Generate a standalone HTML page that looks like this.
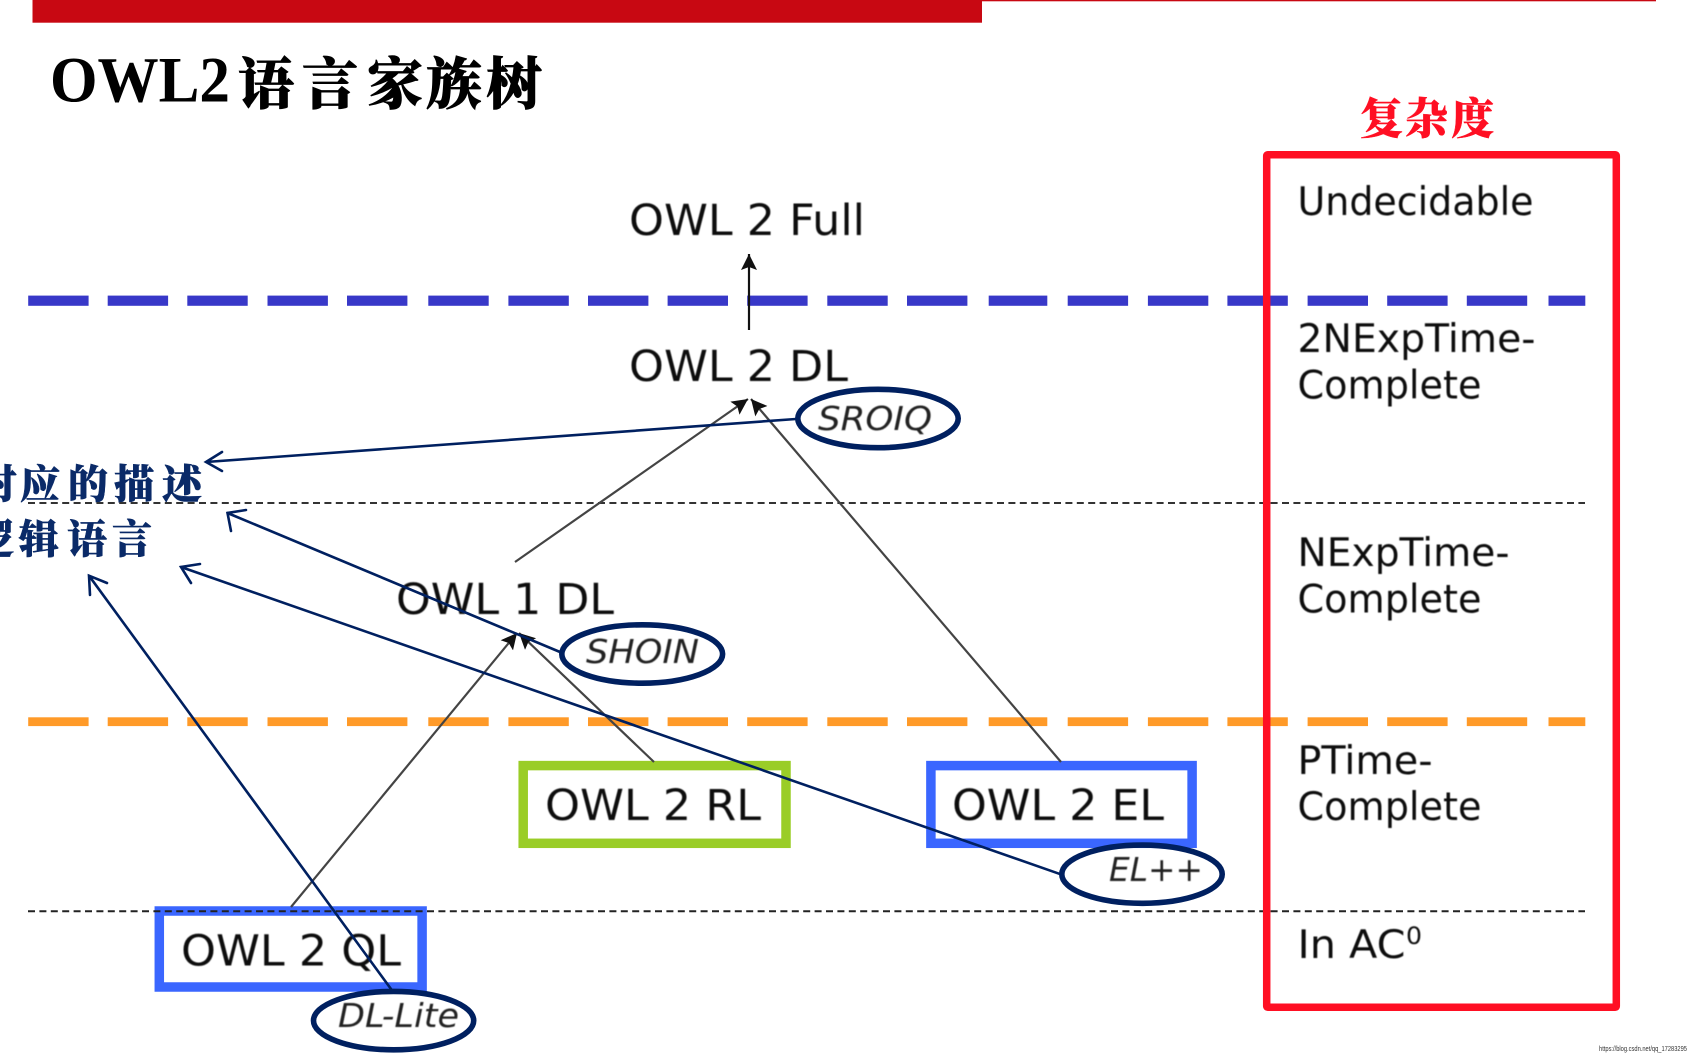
<!DOCTYPE html>
<html><head><meta charset="utf-8"><style>
html,body{margin:0;padding:0;background:#fff;width:1698px;height:1062px;overflow:hidden}
svg{display:block}
.d{font-family:"DejaVu Sans",sans-serif;fill:#111}
.i{font-family:"DejaVu Sans",sans-serif;font-style:italic;fill:#222}
.c{font-family:"Noto Serif CJK SC",serif;font-weight:900}
</style></head><body>
<svg width="1698" height="1062" viewBox="0 0 1698 1062" xmlns="http://www.w3.org/2000/svg">
<defs>
<filter id="b" x="-5%" y="-5%" width="110%" height="110%"><feGaussianBlur stdDeviation="0.5"/></filter>
<marker id="k" markerUnits="userSpaceOnUse" markerWidth="18" markerHeight="18" refX="16" refY="8" orient="auto"><path d="M0 0L16 8L0 16L3 8Z" fill="#111"/></marker>
</defs>
<rect x="32.5" y="0" width="949.5" height="22.7" fill="#c80812"/>
<rect x="982" y="0" width="674" height="1.3" fill="#c80812"/>

<text x="50" y="101.5" font-family="Liberation Serif,serif" font-weight="700" font-size="65" textLength="180" lengthAdjust="spacingAndGlyphs" fill="#000">OWL2</text>
<g class="c" font-size="56" fill="#000" stroke="#000" stroke-width="0.8">
<text x="238" y="104">语</text><text x="302" y="104">言</text><text x="367" y="104">家</text><text x="426" y="104">族</text><text x="486" y="104">树</text>
</g>
<g class="c" font-size="43" fill="#ff0f23" stroke="#ff0f23" stroke-width="0.4">
<text x="1360" y="134">复</text><text x="1405" y="134">杂</text><text x="1451" y="134">度</text>
</g>
<g class="c" font-size="40" fill="#0a2a68" stroke="#0a2a68" stroke-width="0.5">
<text x="-23" y="498">对</text><text x="20" y="498">应</text><text x="68" y="498">的</text><text x="114" y="498">描</text><text x="162" y="498">述</text>
<text x="-26" y="553">逻</text><text x="19" y="553">辑</text><text x="67" y="553">语</text><text x="112" y="553">言</text>
</g>

<!-- blue dashes -->
<g fill="#3838c8">
<rect x="28.2" y="295.6" width="60.4" height="10.2"/><rect x="107.7" y="295.6" width="60.4" height="10.2"/><rect x="187.3" y="295.6" width="60.4" height="10.2"/><rect x="267.5" y="295.6" width="60.4" height="10.2"/><rect x="347" y="295.6" width="60.4" height="10.2"/><rect x="428.3" y="295.6" width="60.4" height="10.2"/><rect x="508.4" y="295.6" width="60.4" height="10.2"/><rect x="588" y="295.6" width="60.4" height="10.2"/><rect x="667.6" y="295.6" width="60.4" height="10.2"/><rect x="747.2" y="295.6" width="60.4" height="10.2"/><rect x="827.3" y="295.6" width="60.4" height="10.2"/><rect x="907" y="295.6" width="60.4" height="10.2"/><rect x="988.7" y="295.6" width="58.6" height="10.2"/><rect x="1067.7" y="295.6" width="60.4" height="10.2"/><rect x="1147.9" y="295.6" width="60.4" height="10.2"/><rect x="1227.4" y="295.6" width="60.4" height="10.2"/><rect x="1307.6" y="295.6" width="60.4" height="10.2"/><rect x="1387.2" y="295.6" width="60.4" height="10.2"/><rect x="1466.8" y="295.6" width="60.4" height="10.2"/><rect x="1548.5" y="295.6" width="36.8" height="10.2"/>
</g>
<!-- orange dashes -->
<g fill="#ff9a28">
<rect x="28.2" y="717.3" width="60.4" height="8.8"/><rect x="107.7" y="717.3" width="60.4" height="8.8"/><rect x="187.3" y="717.3" width="60.4" height="8.8"/><rect x="267.5" y="717.3" width="60.4" height="8.8"/><rect x="347" y="717.3" width="60.4" height="8.8"/><rect x="428.3" y="717.3" width="60.4" height="8.8"/><rect x="508.4" y="717.3" width="60.4" height="8.8"/><rect x="588" y="717.3" width="60.4" height="8.8"/><rect x="667.6" y="717.3" width="60.4" height="8.8"/><rect x="747.2" y="717.3" width="60.4" height="8.8"/><rect x="827.3" y="717.3" width="60.4" height="8.8"/><rect x="907" y="717.3" width="60.4" height="8.8"/><rect x="988.7" y="717.3" width="58.6" height="8.8"/><rect x="1067.7" y="717.3" width="60.4" height="8.8"/><rect x="1147.9" y="717.3" width="60.4" height="8.8"/><rect x="1227.4" y="717.3" width="60.4" height="8.8"/><rect x="1307.6" y="717.3" width="60.4" height="8.8"/><rect x="1387.2" y="717.3" width="60.4" height="8.8"/><rect x="1466.8" y="717.3" width="60.4" height="8.8"/><rect x="1548.5" y="717.3" width="36.8" height="8.8"/>
</g>
<!-- thin dashed -->
<line x1="28" y1="503" x2="1585" y2="503" stroke="#333" stroke-width="2" stroke-dasharray="7 4.4"/>

<!-- boxes -->
<rect x="523.2" y="765.6" width="262.8" height="77.7" fill="none" stroke="#9acd27" stroke-width="9.5"/>
<rect x="930.9" y="765.6" width="261.2" height="77.7" fill="none" stroke="#3a66ff" stroke-width="9.5"/>
<rect x="159.3" y="911" width="262.8" height="76" fill="none" stroke="#3a66ff" stroke-width="9.5"/>
<line x1="28" y1="911.3" x2="1585" y2="911.3" stroke="#222" stroke-width="2" stroke-dasharray="7 4.4"/>

<rect x="1266.7" y="154.7" width="349.6" height="852.6" rx="1" fill="none" stroke="#ff0f23" stroke-width="7.5"/>

<!-- labels -->
<g class="d" font-size="43" filter="url(#b)">
<text x="629" y="235" textLength="236" lengthAdjust="spacingAndGlyphs">OWL 2 Full</text>
<text x="629" y="381" textLength="219" lengthAdjust="spacingAndGlyphs">OWL 2 DL</text>
<text x="396" y="614" textLength="218" lengthAdjust="spacingAndGlyphs">OWL 1 DL</text>
<text x="545" y="820" textLength="216" lengthAdjust="spacingAndGlyphs">OWL 2 RL</text>
<text x="952" y="820" textLength="212" lengthAdjust="spacingAndGlyphs">OWL 2 EL</text>
<text x="181" y="965.5" textLength="220" lengthAdjust="spacingAndGlyphs">OWL 2 QL</text>
</g>
<g class="d" font-size="39" filter="url(#b)">
<text x="1297.5" y="215" textLength="236" lengthAdjust="spacingAndGlyphs">Undecidable</text>
<text x="1297.5" y="352" textLength="238" lengthAdjust="spacingAndGlyphs">2NExpTime-</text>
<text x="1297.5" y="398.5" textLength="184" lengthAdjust="spacingAndGlyphs">Complete</text>
<text x="1297.5" y="566" textLength="212" lengthAdjust="spacingAndGlyphs">NExpTime-</text>
<text x="1297.5" y="612.5" textLength="184" lengthAdjust="spacingAndGlyphs">Complete</text>
<text x="1297.5" y="774" textLength="135" lengthAdjust="spacingAndGlyphs">PTime-</text>
<text x="1297.5" y="820" textLength="184" lengthAdjust="spacingAndGlyphs">Complete</text>
<text x="1297.5" y="958" textLength="108" lengthAdjust="spacingAndGlyphs">In AC</text>
<text x="1406" y="944" font-size="24" textLength="16" lengthAdjust="spacingAndGlyphs">0</text>
</g>

<!-- grey arrows -->
<g stroke="#444" stroke-width="2.2" fill="none">
<line x1="749" y1="330" x2="749" y2="254" stroke="#111" marker-end="url(#k)"/>
<line x1="515" y1="562" x2="748" y2="399" marker-end="url(#k)"/>
<line x1="1061" y1="762" x2="751" y2="399" marker-end="url(#k)"/>
<line x1="291" y1="907" x2="517" y2="633" marker-end="url(#k)"/>
<line x1="654" y1="762" x2="519" y2="633" marker-end="url(#k)"/>
</g>

<!-- navy arrows -->
<g stroke="#002060" stroke-width="2.6" fill="none" stroke-linecap="round">
<path d="M796 419L206 462M222 452L206 462L222 471"/>
<path d="M560 652L227.5 513M231 531L227.5 513L246 510"/>
<path d="M1059 873.7L181 567M191 583L181 567L200 564"/>
<path d="M391 989L89 575.7M90 595L89 575.7L107 583"/>
</g>

<!-- ellipses -->
<g fill="none" stroke="#002060" stroke-width="5.6">
<ellipse cx="878" cy="418.5" rx="80.2" ry="29.2"/>
<ellipse cx="642.2" cy="654" rx="80.4" ry="29.2"/>
<ellipse cx="393.6" cy="1020.6" rx="80.1" ry="29.2"/>
<ellipse cx="1142" cy="874.2" rx="80.2" ry="29.1"/>
</g>
<g class="i" font-size="33" filter="url(#b)">
<text x="818" y="430" textLength="114" lengthAdjust="spacingAndGlyphs">SROIQ</text>
<text x="586" y="663" textLength="113" lengthAdjust="spacingAndGlyphs">SHOIN</text>
<text x="338" y="1027" textLength="121" lengthAdjust="spacingAndGlyphs">DL-Lite</text>
<text x="1109" y="881" textLength="94" lengthAdjust="spacingAndGlyphs">EL++</text>
</g>
<text x="1599" y="1051" font-family="Liberation Sans,sans-serif" font-size="7" textLength="88" lengthAdjust="spacingAndGlyphs" fill="#333">https://blog.csdn.net/qq_17283295</text>
</svg>
</body></html>
